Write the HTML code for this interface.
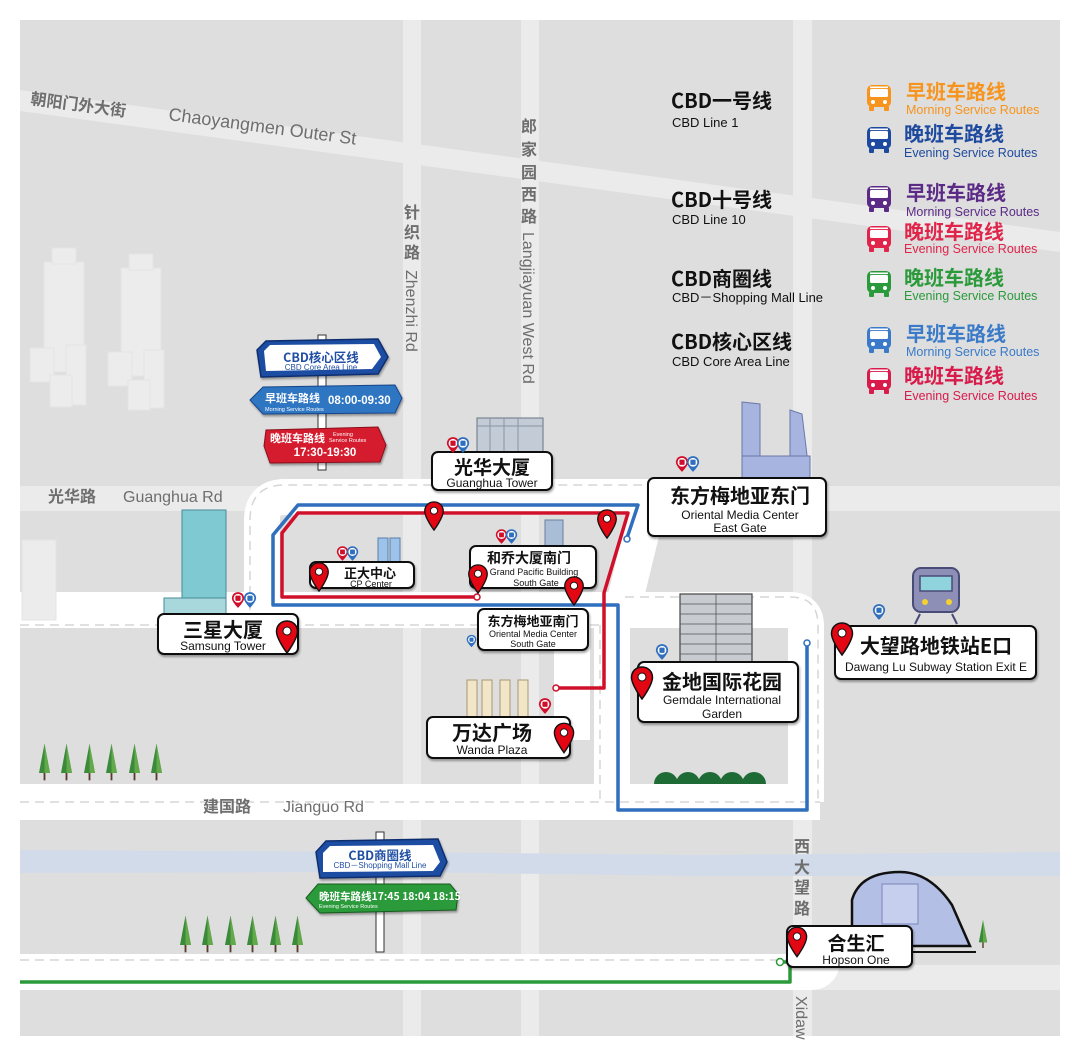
<!DOCTYPE html>
<html><head><meta charset="utf-8"><style>
html,body{margin:0;padding:0;background:#fff}
svg{display:block}
text{font-family:"Liberation Sans","Noto Sans CJK SC",sans-serif}
.cn{font-family:"Noto Sans CJK SC","WenQuanYi Zen Hei",sans-serif}
</style></head><body>
<svg width="1080" height="1056" viewBox="0 0 1080 1056" xmlns="http://www.w3.org/2000/svg">
<defs>
<symbol id="pin" viewBox="0 0 24 34"><path d="M12 1C5.5 1 1.5 6 1.5 11.5 1.5 19 12 33 12 33S22.5 19 22.5 11.5C22.5 6 18.5 1 12 1Z" fill="#e30613" stroke="#111" stroke-width="1.5"/><circle cx="12" cy="11" r="4" fill="#fff" stroke="#111" stroke-width="1"/></symbol>
<symbol id="bus" viewBox="0 0 26 28"><rect x="1" y="1" width="24" height="22" rx="5" fill="currentColor"/><rect x="4" y="5" width="18" height="8" rx="1.5" fill="#fff"/><rect x="4" y="2.5" width="18" height="1.6" fill="#fff"/><circle cx="7" cy="18" r="2" fill="#fff"/><circle cx="19" cy="18" r="2" fill="#fff"/><rect x="3" y="22" width="5" height="5" rx="1" fill="currentColor"/><rect x="18" y="22" width="5" height="5" rx="1" fill="currentColor"/></symbol>
<symbol id="bpin" viewBox="0 0 16 20"><path d="M8 1C4 1 1 4 1 8c0 4 7 11 7 11s7-7 7-11C15 4 12 1 8 1Z" fill="currentColor"/><circle cx="8" cy="8" r="5" fill="#fff"/><rect x="5" y="5" width="6" height="6" rx="1" fill="currentColor"/></symbol>
<symbol id="tree" viewBox="0 0 12 40"><polygon points="6,0 0,32 12,32" fill="#3a8a3a"/><polygon points="6,0 6,32 12,32" fill="#62a94a"/><rect x="5" y="32" width="2" height="8" fill="#5a3a2a"/></symbol>
<filter id="sh"><feDropShadow dx="1" dy="2" stdDeviation="1" flood-opacity="0.35"/></filter>
</defs>

<rect x="20" y="20" width="1040" height="1016" fill="#dedede"/>
<g fill="#ebebeb">
<polygon points="20,90 1060,232 1060,252 20,111"/>
<rect x="403" y="20" width="18" height="1016"/>
<rect x="521" y="20" width="18" height="1016"/>
<rect x="793" y="20" width="19" height="1016"/>
<rect x="20" y="486" width="1040" height="25"/>
<rect x="20" y="965" width="1040" height="25"/>
</g>
<path d="M20 850 L400 852 L700 855 L1060 852 L1060 876 L700 876 L400 872 L20 873Z" fill="#d2dbea"/>

<g fill="none" stroke="#fff" stroke-width="36" stroke-linejoin="round" stroke-linecap="butt">
<path d="M262 625 L262 520 Q262 497 285 497 L650 497 L625 600"/>
<path d="M20 610 L790 610 Q806 610 806 626 L806 802"/>
<path d="M20 802 L820 802"/>
<path d="M612 600 L612 802"/>
<path d="M20 972 L810 972 Q822 972 822 960 L822 935"/>
<path d="M572 600 L572 740"/>
</g>
<g fill="none" stroke="#d6d6d6" stroke-width="1.5" stroke-dasharray="9 6">
<path d="M250 625 L250 520 Q250 485 285 485 L650 485"/>
<path d="M20 625 L600 625"/>
<path d="M600 625 L600 800"/>
<path d="M625 597 L790 597 Q818 597 818 625 L818 800"/>
<path d="M20 802 L820 802"/>
<path d="M20 960 L810 960"/>
</g>

<g fill="#6e6e6e">
<text class="cn" x="30" y="104" font-size="16" font-weight="bold" transform="rotate(7.5 30 104)">朝阳门外大街</text>
<text x="168" y="120" font-size="18" transform="rotate(7.5 168 120)">Chaoyangmen Outer St</text>
<text class="cn" x="48" y="502" font-size="16" font-weight="bold">光华路</text>
<text x="123" y="502" font-size="16">Guanghua Rd</text>
<text class="cn" x="203" y="812" font-size="16" font-weight="bold">建国路</text>
<text x="283" y="812" font-size="16">Jianguo Rd</text>
<g class="cn" font-size="16" font-weight="bold" text-anchor="middle">
<text x="412" y="218">针</text><text x="412" y="238">织</text><text x="412" y="258">路</text>
<text x="529" y="132">郎</text><text x="529" y="155">家</text><text x="529" y="178">园</text><text x="529" y="200">西</text><text x="529" y="222">路</text>
<text x="802" y="852">西</text><text x="802" y="873">大</text><text x="802" y="893">望</text><text x="802" y="914">路</text>
</g>
<text x="406" y="270" font-size="16" transform="rotate(90 406 270)">Zhenzhi Rd</text>
<text x="523" y="232" font-size="16" transform="rotate(90 523 232)">Langjiayuan West Rd</text>
<text x="796" y="996" font-size="16" transform="rotate(90 796 996)">Xidaw</text>
</g>

<g fill="#ececec" stroke="#e4e4e4" stroke-width="1">
<rect x="44" y="262" width="40" height="110"/><rect x="52" y="248" width="24" height="16"/>
<rect x="121" y="268" width="40" height="108"/><rect x="129" y="254" width="24" height="16"/>
<rect x="30" y="348" width="24" height="34"/><rect x="66" y="345" width="20" height="60"/><rect x="50" y="375" width="22" height="32"/>
<rect x="108" y="352" width="24" height="34"/><rect x="144" y="350" width="20" height="58"/><rect x="128" y="380" width="22" height="30"/>
<rect x="22" y="540" width="34" height="80"/>
</g>

<rect x="318" y="335" width="8" height="135" fill="#fff" stroke="#333" stroke-width="1"/>
<g filter="url(#sh)">
<polygon points="257,350 266,341 378,339 388,357 378,374 261,377" fill="#1f4ea3" stroke="#0f2e6e" stroke-width="1.5"/>
<polygon points="264,351 270,345 374,344 381,357 372,369 266,371" fill="#fff"/>
<polygon points="250,400 263,387 395,385 402,398 395,413 263,414" fill="#2f74c2" stroke="#17458a" stroke-width="1"/>
<polygon points="266,430 378,427 386,445 380,462 270,463 264,446" fill="#d41c2e" stroke="#8a0f1a" stroke-width="1"/>
</g>
<text class="cn" x="321" y="362" font-size="12.5" font-weight="bold" fill="#1f4ea3" text-anchor="middle">CBD核心区线</text>
<text x="321" y="370" font-size="8" fill="#1f4ea3" text-anchor="middle">CBD Core Area Line</text>
<text class="cn" x="265" y="402" font-size="11" font-weight="bold" fill="#fff">早班车路线</text>
<text x="328" y="404" font-size="11.5" font-weight="bold" fill="#fff">08:00-09:30</text>
<text x="265" y="411" font-size="5.5" fill="#fff">Morning Service Routes</text>
<text class="cn" x="270" y="442" font-size="11" font-weight="bold" fill="#fff">晚班车路线</text>
<text x="333" y="436" font-size="5.5" fill="#fff">Evening</text>
<text x="329" y="442" font-size="5.5" fill="#fff">Service Routes</text>
<text x="325" y="456" font-size="11.5" font-weight="bold" fill="#fff" text-anchor="middle">17:30-19:30</text>

<rect x="376" y="832" width="8" height="120" fill="#fff" stroke="#333" stroke-width="1"/>
<g filter="url(#sh)">
<polygon points="316,852 326,841 438,839 447,862 440,876 320,878" fill="#1f4ea3" stroke="#0f2e6e" stroke-width="1.5"/>
<polygon points="323,853 330,846 433,845 440,862 433,871 323,872" fill="#fff"/>
<polygon points="306,898 318,884 450,884 458,894 456,910 320,913" fill="#2a9a3a" stroke="#145a1e" stroke-width="1"/>
</g>
<text class="cn" x="380" y="860" font-size="12.5" font-weight="bold" fill="#1f4ea3" text-anchor="middle">CBD商圈线</text>
<text x="380" y="868" font-size="8" fill="#1f4ea3" text-anchor="middle">CBD－Shopping Mall Line</text>
<text class="cn" x="319" y="900" font-size="10.5" font-weight="bold" fill="#fff">晚班车路线17:45 18:04 18:15</text>
<text x="319" y="908" font-size="5.5" fill="#fff">Evening Service Routes</text>

<g>
<use href="#tree" x="39" y="742" width="11" height="40"/><use href="#tree" x="61" y="742" width="11" height="40"/><use href="#tree" x="84" y="742" width="11" height="40"/><use href="#tree" x="106" y="742" width="11" height="40"/><use href="#tree" x="129" y="742" width="11" height="40"/><use href="#tree" x="151" y="742" width="11" height="40"/>
<use href="#tree" x="180" y="914" width="11" height="40"/><use href="#tree" x="202" y="914" width="11" height="40"/><use href="#tree" x="225" y="914" width="11" height="40"/><use href="#tree" x="247" y="914" width="11" height="40"/><use href="#tree" x="270" y="914" width="11" height="40"/><use href="#tree" x="292" y="914" width="11" height="40"/>
<use href="#tree" x="978" y="920" width="10" height="28"/>
</g>
<g fill="#1f6b35"><path d="M654 784a12 12 0 0 1 24 0Z"/><path d="M676 784a12 12 0 0 1 24 0Z"/><path d="M698 784a12 12 0 0 1 24 0Z"/><path d="M720 784a12 12 0 0 1 24 0Z"/><path d="M742 784a12 12 0 0 1 24 0Z"/></g>

<rect x="182" y="510" width="44" height="105" fill="#7fc9d2" stroke="#4a8a98"/><rect x="164" y="598" width="62" height="18" fill="#a9d8dc" stroke="#4a8a98"/>
<rect x="477" y="418" width="66" height="36" fill="#c3cbd6" stroke="#6a7482"/>
<g stroke="#8a94a4" stroke-width="1"><line x1="477" y1="426" x2="543" y2="426"/><line x1="490" y1="418" x2="490" y2="454"/><line x1="504" y1="418" x2="504" y2="454"/><line x1="518" y1="418" x2="518" y2="454"/></g>
<rect x="378" y="538" width="10" height="26" fill="#9ec3ea" stroke="#5a7fa8"/><rect x="390" y="538" width="10" height="26" fill="#9ec3ea" stroke="#5a7fa8"/>
<rect x="545" y="520" width="18" height="28" fill="#a9bdd6" stroke="#6a7fa0"/>
<polygon points="742,402 760,404 760,472 742,480" fill="#a8b4e0" stroke="#6a78a8"/><polygon points="790,410 802,414 810,480 790,480" fill="#a8b4e0" stroke="#6a78a8"/><rect x="742" y="456" width="68" height="24" fill="#a8b4e0" stroke="#6a78a8"/>
<rect x="680" y="594" width="72" height="70" fill="#c8ccd0" stroke="#444" stroke-width="1.2"/>
<g stroke="#555" stroke-width="0.8"><line x1="680" y1="604" x2="752" y2="604"/><line x1="680" y1="614" x2="752" y2="614"/><line x1="680" y1="624" x2="752" y2="624"/><line x1="680" y1="634" x2="752" y2="634"/><line x1="680" y1="644" x2="752" y2="644"/><line x1="680" y1="654" x2="752" y2="654"/><line x1="716" y1="594" x2="716" y2="664"/></g>
<g fill="#f2e6c8" stroke="#a89870"><rect x="467" y="680" width="10" height="38"/><rect x="482" y="680" width="10" height="38"/><rect x="500" y="680" width="10" height="38"/><rect x="518" y="680" width="10" height="38"/></g>
<rect x="913" y="568" width="46" height="44" rx="8" fill="#8d8fb7" stroke="#4a4c78" stroke-width="2"/>
<rect x="920" y="576" width="32" height="15" fill="#8fd3dc" stroke="#4a4c78" stroke-width="1.5"/>
<circle cx="925" cy="602" r="3" fill="#f5d130"/><circle cx="949" cy="602" r="3" fill="#f5d130"/>
<line x1="920" y1="614" x2="915" y2="624" stroke="#4a4c78" stroke-width="2"/><line x1="952" y1="614" x2="957" y2="624" stroke="#4a4c78" stroke-width="2"/>
<path d="M852 946 L852 900 Q860 872 900 872 Q930 872 952 905 L970 946Z" fill="#b4bfe6" stroke="#111" stroke-width="2.5"/>
<rect x="882" y="884" width="36" height="40" fill="#c6cfee" stroke="#7a86b8"/>
<line x1="910" y1="952" x2="976" y2="952" stroke="#111" stroke-width="2"/>

<g fill="none" stroke-width="3.5" stroke-linejoin="round">
<path d="M627 538 L638 505 L298 505 L273 535 L273 605 L618 605 L618 810 L807 810 L807 643" stroke="#2f6fbd"/>
<path d="M475 597 L282 597 L282 533 L298 513 L628 513 L604 593 L604 688 L556 688" stroke="#d0102a"/>
<path d="M780 962 L790 962 L790 982 L20 982" stroke="#2a9a3a"/>
</g>
<circle cx="627" cy="539" r="3" fill="#fff" stroke="#2f6fbd" stroke-width="1.5"/>
<circle cx="807" cy="643" r="3" fill="#fff" stroke="#2f6fbd" stroke-width="1.5"/>
<circle cx="477" cy="597" r="3" fill="#fff" stroke="#d0102a" stroke-width="1.5"/>
<circle cx="556" cy="688" r="3" fill="#fff" stroke="#d0102a" stroke-width="1.5"/>
<circle cx="780" cy="962" r="3.5" fill="#fff" stroke="#2a9a3a" stroke-width="1.5"/>

<g fill="#fff" stroke="#111" stroke-width="2" filter="url(#sh)">
<rect x="432" y="452" width="120" height="38" rx="6"/>
<rect x="648" y="478" width="178" height="58" rx="6"/>
<rect x="470" y="546" width="126" height="42" rx="6"/>
<rect x="310" y="562" width="104" height="26" rx="6"/>
<rect x="478" y="609" width="110" height="41" rx="6"/>
<rect x="158" y="614" width="140" height="40" rx="6"/>
<rect x="427" y="717" width="143" height="41" rx="6"/>
<rect x="638" y="662" width="160" height="60" rx="6"/>
<rect x="835" y="626" width="201" height="53" rx="6"/>
<rect x="787" y="926" width="125" height="41" rx="6"/>
</g>
<g fill="#111" text-anchor="middle">
<text class="cn" x="492" y="474" font-size="19" font-weight="bold">光华大厦</text><text x="492" y="487" font-size="12">Guanghua Tower</text>
<text class="cn" x="740" y="503" font-size="20" font-weight="bold">东方梅地亚东门</text><text x="740" y="519" font-size="12">Oriental Media Center</text><text x="740" y="532" font-size="12">East Gate</text>
<text class="cn" x="529" y="563" font-size="14" font-weight="bold">和乔大厦南门</text><text x="534" y="575" font-size="9">Grand Pacific Building</text><text x="536" y="586" font-size="9">South Gate</text>
<text class="cn" x="370" y="578" font-size="13" font-weight="bold">正大中心</text><text x="371" y="587" font-size="9">CP Center</text>
<text class="cn" x="533" y="626" font-size="13" font-weight="bold">东方梅地亚南门</text><text x="533" y="637" font-size="9">Oriental Media Center</text><text x="533" y="647" font-size="9">South Gate</text>
<text class="cn" x="223" y="637" font-size="20" font-weight="bold">三星大厦</text><text x="223" y="650" font-size="12">Samsung Tower</text>
<text class="cn" x="492" y="740" font-size="20" font-weight="bold">万达广场</text><text x="492" y="754" font-size="12">Wanda Plaza</text>
<text class="cn" x="722" y="689" font-size="20" font-weight="bold">金地国际花园</text><text x="722" y="704" font-size="12">Gemdale International</text><text x="722" y="718" font-size="12">Garden</text>
<text class="cn" x="936" y="653" font-size="20" font-weight="bold">大望路地铁站E口</text><text x="936" y="671" font-size="12">Dawang Lu Subway Station Exit E</text>
<text class="cn" x="856" y="950" font-size="19" font-weight="bold">合生汇</text><text x="856" y="964" font-size="12">Hopson One</text>
</g>

<use href="#pin" x="423" y="501" width="22" height="30"/>
<use href="#pin" x="596" y="509" width="22" height="30"/>
<use href="#pin" x="308" y="562" width="22" height="30"/>
<use href="#pin" x="467" y="564" width="22" height="30"/>
<use href="#pin" x="563" y="576" width="22" height="30"/>
<use href="#pin" x="275" y="620" width="24" height="34"/>
<use href="#pin" x="553" y="722" width="22" height="32"/>
<use href="#pin" x="630" y="666" width="24" height="34"/>
<use href="#pin" x="830" y="622" width="24" height="34"/>
<use href="#pin" x="786" y="926" width="22" height="32"/>
<g>
<use href="#bpin" x="446" y="436" width="14" height="18" color="#d0102a"/><use href="#bpin" x="456" y="436" width="14" height="18" color="#2f6fbd"/>
<use href="#bpin" x="675" y="455" width="14" height="18" color="#d0102a"/><use href="#bpin" x="686" y="455" width="14" height="18" color="#2f6fbd"/>
<use href="#bpin" x="495" y="528" width="13" height="17" color="#d0102a"/><use href="#bpin" x="505" y="528" width="13" height="17" color="#2f6fbd"/>
<use href="#bpin" x="336" y="545" width="13" height="17" color="#d0102a"/><use href="#bpin" x="346" y="545" width="13" height="17" color="#2f6fbd"/>
<use href="#bpin" x="231" y="591" width="14" height="18" color="#d0102a"/><use href="#bpin" x="243" y="591" width="14" height="18" color="#2f6fbd"/>
<use href="#bpin" x="466" y="634" width="11" height="14" color="#2f6fbd"/>
<use href="#bpin" x="538" y="697" width="14" height="18" color="#d0102a"/>
<use href="#bpin" x="655" y="643" width="14" height="18" color="#2f6fbd"/>
<use href="#bpin" x="872" y="603" width="14" height="18" color="#2f6fbd"/>
</g>

<g fill="#111">
<text class="cn" x="671" y="108" font-size="20" font-weight="bold">CBD一号线</text><text x="672" y="127" font-size="13">CBD Line 1</text>
<text class="cn" x="671" y="207" font-size="20" font-weight="bold">CBD十号线</text><text x="672" y="224" font-size="13">CBD Line 10</text>
<text class="cn" x="671" y="286" font-size="20" font-weight="bold">CBD商圈线</text><text x="672" y="302" font-size="13">CBD－Shopping Mall Line</text>
<text class="cn" x="671" y="349" font-size="20" font-weight="bold">CBD核心区线</text><text x="672" y="366" font-size="13">CBD Core Area Line</text>
</g>
<use href="#bus" x="866" y="84" width="26" height="28" color="#f7941d"/>
<use href="#bus" x="866" y="126" width="26" height="28" color="#1d4a9e"/>
<use href="#bus" x="866" y="185" width="26" height="28" color="#5b2a86"/>
<use href="#bus" x="866" y="225" width="26" height="28" color="#e0244a"/>
<use href="#bus" x="866" y="270" width="26" height="28" color="#2a9a3a"/>
<use href="#bus" x="866" y="326" width="26" height="28" color="#3a7ac8"/>
<use href="#bus" x="866" y="367" width="26" height="28" color="#d81b4a"/>
<g font-weight="bold" font-size="20" class="cn">
<text x="906" y="99" fill="#f7941d">早班车路线</text>
<text x="904" y="141" fill="#1d4a9e">晚班车路线</text>
<text x="906" y="200" fill="#5b2a86">早班车路线</text>
<text x="904" y="239" fill="#e0244a">晚班车路线</text>
<text x="904" y="285" fill="#2a9a3a">晚班车路线</text>
<text x="906" y="341" fill="#3a7ac8">早班车路线</text>
<text x="904" y="383" fill="#d81b4a">晚班车路线</text>
</g>
<g font-size="12.5">
<text x="906" y="114" fill="#f7941d">Morning Service Routes</text>
<text x="904" y="157" fill="#1d4a9e">Evening Service Routes</text>
<text x="906" y="216" fill="#5b2a86">Morning Service Routes</text>
<text x="904" y="253" fill="#e0244a">Evening Service Routes</text>
<text x="904" y="300" fill="#2a9a3a">Evening Service Routes</text>
<text x="906" y="356" fill="#3a7ac8">Morning Service Routes</text>
<text x="904" y="400" fill="#d81b4a">Evening Service Routes</text>
</g>
</svg>
</body></html>
